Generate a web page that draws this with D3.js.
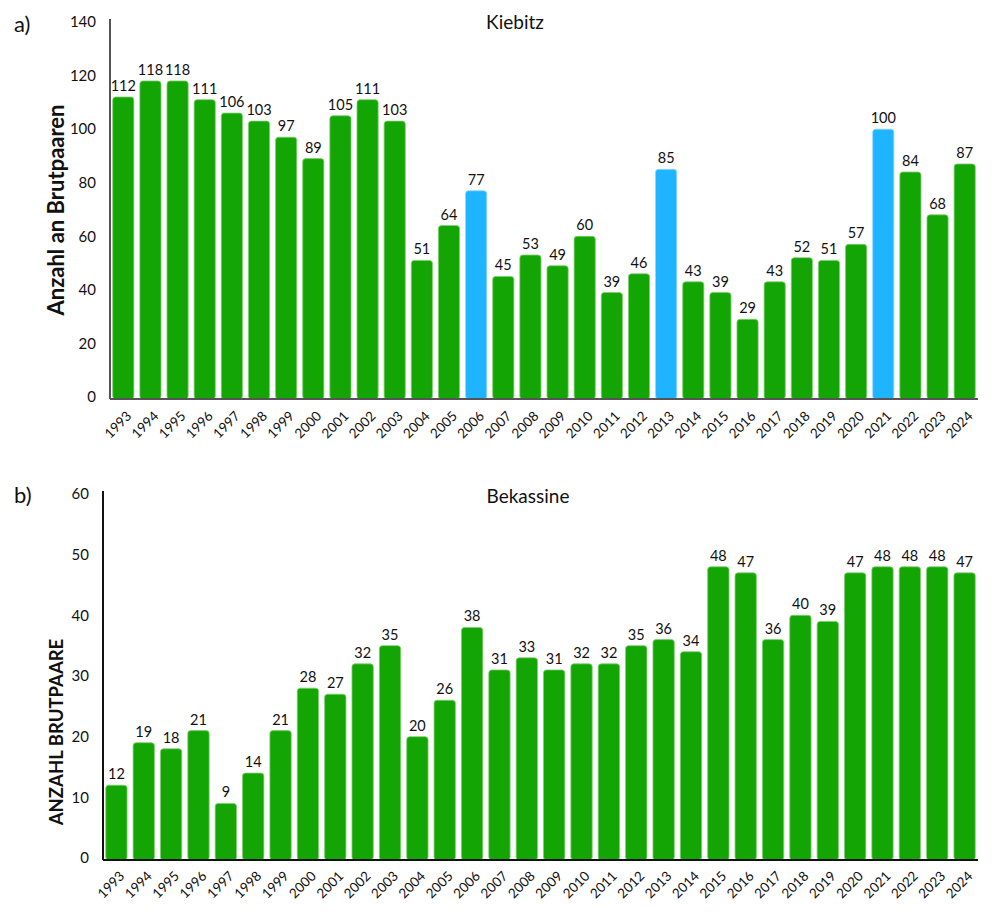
<!DOCTYPE html>
<html>
<head>
<meta charset="utf-8">
<script src="https://cdn.jsdelivr.net/npm/d3@7"></script>
<style>
  html, body { margin: 0; padding: 0; background: #fff; }
  svg { display: block; font-family: Lato, "Open Sans", sans-serif; }
</style>
</head>
<body>
<svg id="chart" width="993" height="916"></svg>
<script>
const years = d3.range(1993, 2025).map(String);
const kiebitzValues = [112,118,118,111,106,103,97,89,105,111,103,51,64,77,45,53,49,60,39,46,85,43,39,29,43,52,51,57,100,84,68,87];
const kiebitzHighlight = ["2006","2013","2021"];
const bekassineValues = [12,19,18,21,9,14,21,28,27,32,35,20,26,38,31,33,31,32,32,35,36,34,48,47,36,40,39,47,48,48,48,47];
const kiebitzTicks = [0,20,40,60,80,100,120,140];
const bekassineTicks = [0,10,20,30,40,50,60];

const GREEN = "#13a503", BLUE = "#1fb4ff";
const svg = d3.select("#chart");

function panel(opts) {
  const g = svg.append("g");
  const x = d3.scaleBand().domain(years).range([opts.x0, opts.x1]).paddingInner(0.22).paddingOuter(0.1);
  const y = d3.scaleLinear().domain([0, opts.max]).range([opts.y0, opts.y1]);

  g.selectAll("rect.bar").data(opts.values).join("rect")
    .attr("class","bar")
    .attr("x",(d,i)=>x(years[i]))
    .attr("y",d=>y(d))
    .attr("width",x.bandwidth())
    .attr("height",d=>opts.y0 - y(d) + 2)
    .attr("rx",3).attr("ry",3)
    .attr("fill",(d,i)=>opts.highlight.includes(years[i]) ? BLUE : GREEN)
    .attr("stroke",(d,i)=>opts.highlight.includes(years[i]) ? "#8fd8ff" : "#7fcf6f")
    .attr("stroke-width",0.8);

  g.selectAll("text.val").data(opts.values).join("text")
    .attr("class","val")
    .attr("x",(d,i)=>x(years[i]) + x.bandwidth()/2)
    .attr("y",d=>y(d) - 6)
    .attr("text-anchor","middle")
    .attr("font-size",14.5).attr("fill","#111")
    .text(d=>d);

  const ya = d3.axisLeft(y).tickValues(opts.ticks).tickSize(0).tickPadding(14);
  const yg = g.append("g").attr("transform",`translate(${opts.x0},0)`).call(ya);
  yg.select(".domain").attr("stroke",opts.axisColor).attr("stroke-width",2)
    .attr("d",`M0,${opts.y1 - 3}V${opts.y0 + 2}`);
  yg.selectAll("text").attr("font-size",15).attr("fill","#111").attr("font-family","Lato, sans-serif");

  const xa = d3.axisBottom(x).tickSize(0).tickPadding(0);
  const xg = g.append("g").attr("transform",`translate(0,${opts.y0 + 2})`).call(xa);
  xg.select(".domain").attr("stroke",opts.axisColor).attr("stroke-width",2)
    .attr("d",`M${opts.x0},0H${opts.x1}`);
  xg.selectAll("text")
    .attr("font-size",13.5).attr("fill","#111").attr("font-family","Lato, sans-serif")
    .attr("text-anchor","end")
    .attr("dy",null).attr("y",0)
    .attr("transform",`translate(9,${opts.xlabDy}) rotate(-45)`);

  g.append("text").attr("x",opts.titleX).attr("y",opts.titleY)
    .attr("text-anchor","middle").attr("font-size",19).attr("fill","#111").text(opts.title);
  g.append("text").attr("x",14).attr("y",opts.letterY)
    .attr("font-size",22).attr("fill","#111").text(opts.letter);
  g.append("text")
    .attr("transform",`translate(${opts.ytX},${opts.ytY}) rotate(-90)`)
    .attr("text-anchor","middle").attr("font-size",opts.ytSize).attr("font-weight","bold")
    .attr("fill","#111").text(opts.yTitle);
}

panel({
  values: kiebitzValues, highlight: kiebitzHighlight, ticks: kiebitzTicks, max: 140,
  x0: 110, x1: 978, y0: 397, y1: 22, axisColor: "#555", xlabDy: 18,
  title: "Kiebitz", titleX: 515, titleY: 29, letter: "a)", letterY: 32,
  yTitle: "Anzahl an Brutpaaren", ytX: 64, ytY: 210, ytSize: 22
});
panel({
  values: bekassineValues, highlight: [], ticks: bekassineTicks, max: 60,
  x0: 103, x1: 978, y0: 858, y1: 494, axisColor: "#111", xlabDy: 17,
  title: "Bekassine", titleX: 528, titleY: 503, letter: "b)", letterY: 503,
  yTitle: "ANZAHL BRUTPAARE", ytX: 63, ytY: 732, ytSize: 18.5
});
</script>
</body>
</html>
